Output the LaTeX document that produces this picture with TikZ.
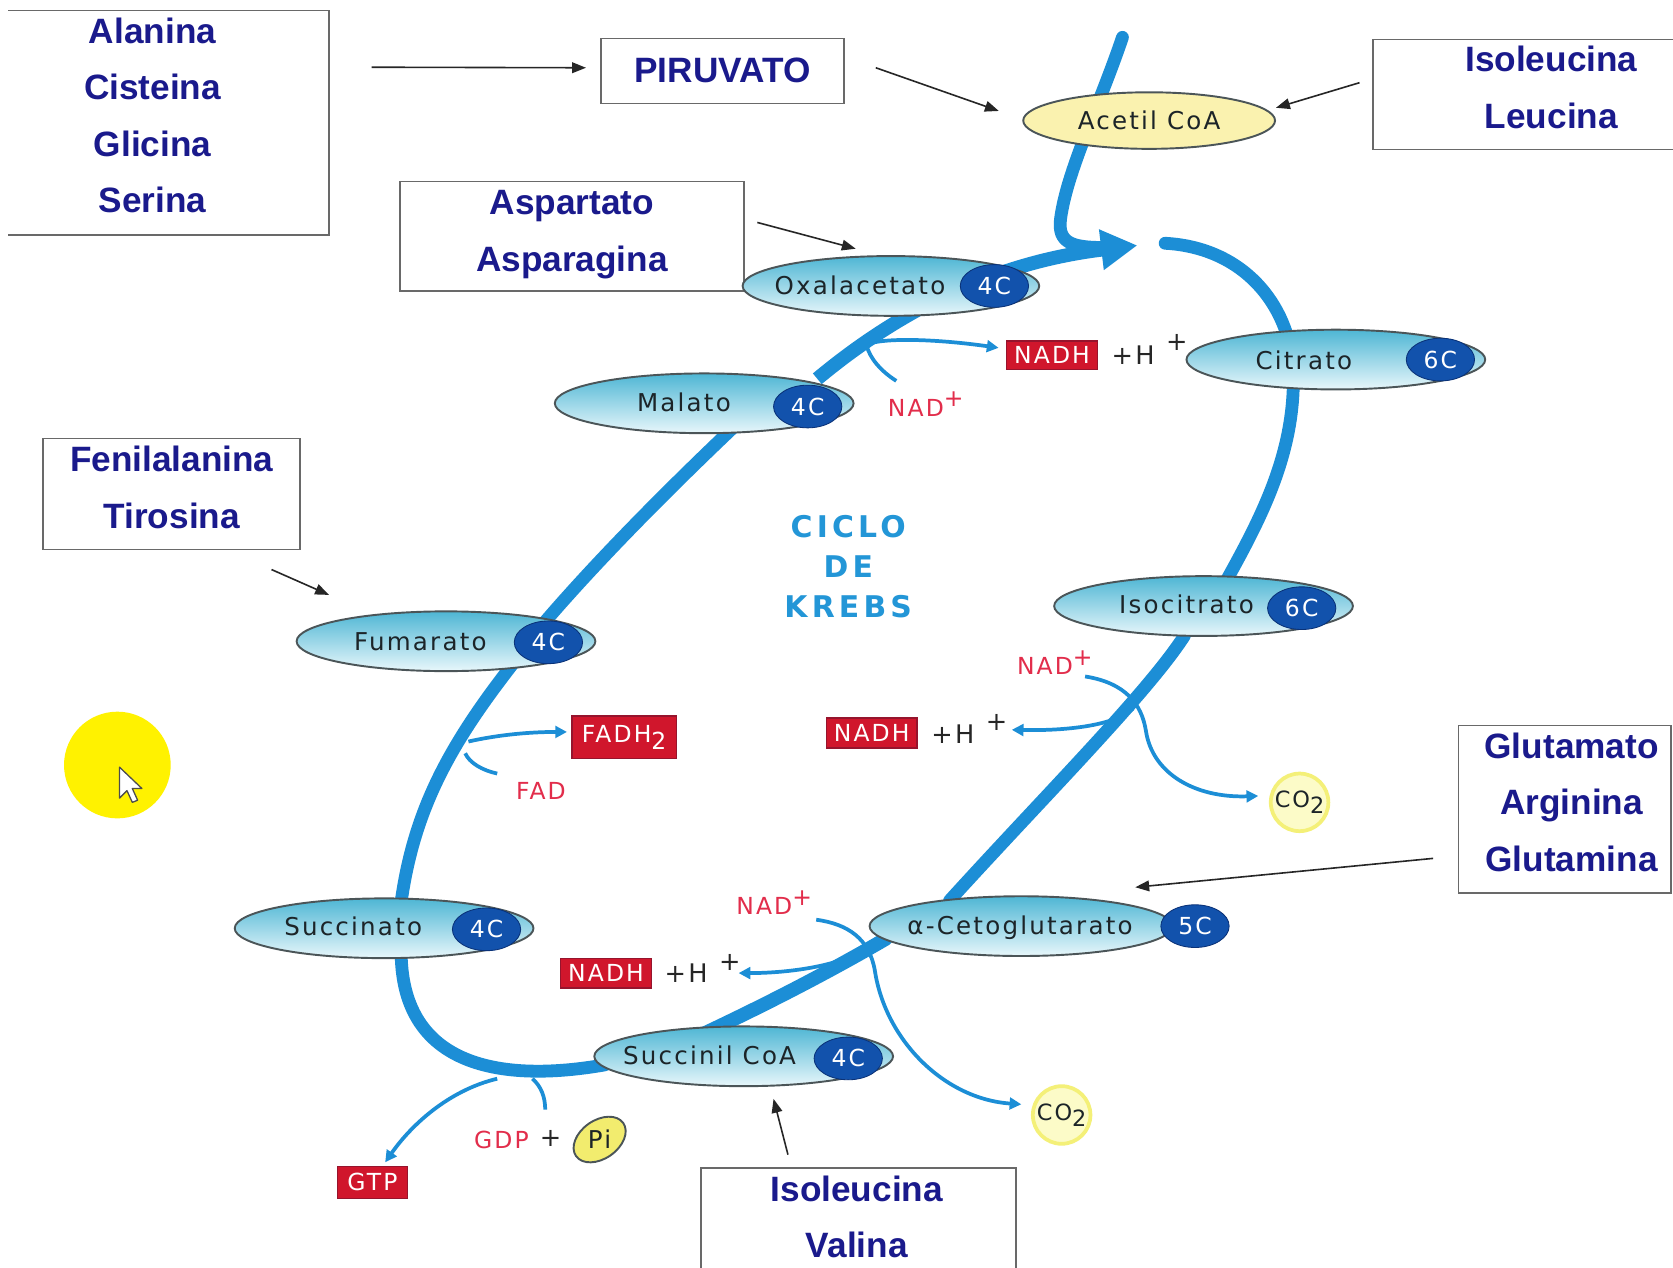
\documentclass[tikz,border=0pt]{standalone}
\usepackage{fontspec}
\setmainfont{DejaVu Sans}
\newfontfamily\boxfont{Liberation Sans}
\newfontfamily\metfont{DejaVu Sans}[LetterSpace=9]
\newfontfamily\krebsfont{DejaVu Sans}[LetterSpace=14]
\usetikzlibrary{shapes.geometric,arrows.meta,backgrounds,calc}
\definecolor{cycblue}{RGB}{28,142,214}
\definecolor{badgeblue}{RGB}{18,82,172}
\definecolor{badgeedge}{RGB}{10,50,120}
\definecolor{metA}{RGB}{78,182,212}
\definecolor{metB}{RGB}{232,247,251}
\definecolor{metline}{RGB}{75,85,88}
\definecolor{mettext}{RGB}{28,36,40}
\definecolor{nadred}{RGB}{208,22,44}
\definecolor{nadedge}{RGB}{150,20,45}
\definecolor{redtext}{RGB}{226,45,75}
\definecolor{aablue}{RGB}{26,26,140}
\definecolor{boxgray}{RGB}{105,105,105}
\definecolor{krebsblue}{RGB}{35,150,215}
\definecolor{co2fill}{RGB}{252,251,200}
\definecolor{co2ring}{RGB}{244,240,120}
\definecolor{acfill}{RGB}{250,242,175}
\definecolor{pifill}{RGB}{242,236,110}
\definecolor{spotY}{RGB}{255,242,0}
\begin{document}
\begin{tikzpicture}[x=1pt,y=-1pt,
  ellbase/.style={ellipse, draw=metline, line width=1.8pt, minimum height=56pt, inner sep=0pt},
  metab/.style={ellbase, top color=metA, bottom color=metB, minimum width=#1},
  badge/.style={ellipse, fill=badgeblue, draw=badgeedge, line width=0.8pt, minimum width=64pt, minimum height=40pt, inner sep=0pt, text=white, font=\metfont\fontsize{22}{22}\selectfont},
  mlabel/.style={inner sep=0pt, text=mettext, text height=16pt, text depth=0pt, font=\metfont\fontsize{23}{23}\selectfont},
  redbox/.style={fill=nadred, draw=nadedge, line width=1.2pt, text=white, inner sep=0pt, font=\metfont\fontsize{22}{22}\selectfont},
  redlbl/.style={inner sep=0pt, text=redtext, font=\metfont\fontsize{22}{22}\selectfont},
  blacklbl/.style={inner sep=0pt, text=black!85, font=\metfont\fontsize{24}{24}\selectfont},
  aabox/.style={draw=boxgray, line width=1.6pt, inner sep=0pt},
  aaline/.style={draw=boxgray, line width=1.6pt},
  aatext/.style={inner sep=0pt, align=center, text=aablue, text depth=0pt, font=\boxfont\bfseries\fontsize{33}{53}\selectfont},
  cyc/.style={draw=cycblue, line width=12pt, line cap=round},
  sidearrow/.style={draw=cycblue, line width=3.5pt, -{Triangle[length=11pt,width=11pt]}},
  sideline/.style={draw=cycblue, line width=3.5pt},
  blk/.style={draw=black!85, line width=1.5pt, -{Triangle[length=13pt,width=10pt]}},
  co2/.style={circle, fill=co2fill, draw=co2ring, line width=3.5pt, minimum size=54pt, inner sep=0pt, text=mettext, font=\metfont\fontsize{21}{21}\selectfont}
]
\useasboundingbox (0,0) rectangle (1568,1188);
\clip (0,0) rectangle (1568,1188);

% ---------- amino-acid boxes ----------
\node[inner sep=0pt, minimum width=300pt, minimum height=210pt] (alanB) at (158,115) {};
\draw[aaline] (alanB.north west) -- (alanB.north east) -- (alanB.south east) -- (alanB.south west);
\node[aatext] (alanT) at (143,108) {Alanina\\Cisteina\\Glicina\\Serina};
\node[aabox, minimum width=228pt, minimum height=61pt] (piru) at (677,66.5) {};
\node[aatext] (piruT) at (677,66) {PIRUVATO};
\node[aabox, minimum width=322pt, minimum height=103pt] (aspB) at (536,221.5) {};
\node[aatext] (aspT) at (536,216.5) {Aspartato\\Asparagina};
\node[aabox, minimum width=334pt, minimum height=103pt] (leuB) at (1454,88.5) {};
\node[aatext] (leuT) at (1454,82) {Isoleucina\\Leucina};
\node[aabox, minimum width=241pt, minimum height=104pt] (fenB) at (160.5,463) {};
\node[aatext] (fenT) at (161,456.5) {Fenilalanina\\Tirosina};
\node[aabox, minimum width=199pt, minimum height=157pt] (gluB) at (1466.5,758.5) {};
\node[aatext] (gluT) at (1473,751.5) {Glutamato\\Arginina\\Glutamina};
\node[aabox, minimum width=295pt, minimum height=103pt] (valB) at (804.5,1146.5) {};
\node[aatext] (valT) at (803,1140.5) {Isoleucina\\Valina};

% ---------- metabolites ----------
\node[ellbase, fill=acfill, minimum width=236pt, minimum height=53pt] (acetil) at (1077,113) {};
\node[mlabel] (acetilT) at (1077,113) {Acetil CoA};

\node[metab=278pt] (oxal) at (835,268) {};
\node[mlabel] (oxalT) at (806,268) {Oxalacetato};
\node[badge] (oxalB) at (932,268) {4C};

\node[metab=280pt] (citr) at (1252,337) {};
\node[mlabel] (citrT) at (1222,338) {Citrato};
\node[badge] (citrB) at (1350,337) {6C};

\node[metab=280pt] (mal) at (660,378) {};
\node[mlabel] (malT) at (641,378) {Malato};
\node[badge] (malB) at (757,381) {4C};

\node[metab=280pt] (isoc) at (1128,568) {};
\node[mlabel] (isocT) at (1112,567) {Isocitrato};
\node[badge] (isocB) at (1220,570) {6C};

\node[metab=280pt] (fum) at (418,601) {};
\node[mlabel] (fumT) at (394,602) {Fumarato};
\node[badge] (fumB) at (514,602) {4C};

\node[metab=280pt] (succ) at (360,870) {};
\node[mlabel] (succT) at (331,869) {Succinato};
\node[badge] (succB) at (456,871) {4C};

\node[metab=284pt] (akg) at (957,868) {};
\node[mlabel] (akgT) at (956,868) {α-Cetoglutarato};
\node[badge] (akgB) at (1120,868) {5C};

\node[metab=280pt] (scoa) at (697,990) {};
\node[mlabel] (scoaT) at (665,990) {Succinil CoA};
\node[badge] (scoaB) at (795,992) {4C};

% ---------- cofactors ----------
\node[redbox, minimum width=85pt, minimum height=27pt] (nadh1) at (986,333) {NADH};
\node[blacklbl] (hp1) at (1062,333) {+H};
\node[blacklbl] (sp1) at (1103,321) {+};
\node[redlbl, anchor=west] (nad1) at (832,379) {NAD\raisebox{9pt}{+}};

\node[redbox, minimum width=85pt, minimum height=28pt] (nadh2) at (817,687) {NADH};
\node[blacklbl] (hp2) at (893,688) {+H};
\node[blacklbl] (sp2) at (934,677) {+};
\node[redlbl, anchor=west] (nad2) at (953,621) {NAD\raisebox{9pt}{+}};

\node[redbox, minimum width=85pt, minimum height=28pt] (nadh3) at (568,912) {NADH};
\node[blacklbl] (hp3) at (643,912) {+H};
\node[blacklbl] (sp3) at (684,902) {+};
\node[redlbl, anchor=west] (nad3) at (690,846) {NAD\raisebox{9pt}{+}};

\node[redbox, minimum width=98pt, minimum height=40pt] (fadh) at (585,691) {FADH\raisebox{-7pt}{2}};
\node[redlbl] (fad) at (507,741) {FAD};

\node[redbox, minimum width=66pt, minimum height=30pt] (gtp) at (349,1108) {GTP};
\node[redlbl] (gdp) at (470,1068) {GDP};
\node[blacklbl] (gplus) at (516,1067) {+};
\node[ellbase, fill=pifill, minimum width=54pt, minimum height=36pt, rotate=35] (pi) at (562,1068) {};
\node[mlabel] (piT) at (562,1068) {Pi};

\node[co2] (co2a) at (1218,752) {CO\raisebox{-6pt}{2}};
\node[co2] (co2b) at (995,1045) {CO\raisebox{-6pt}{2}};

% ---------- centre title ----------
\node[inner sep=0pt, align=center, text=krebsblue, text depth=0pt, font=\krebsfont\bfseries\fontsize{28}{37.5}\selectfont] (krebs) at (795,530.5) {CICLO\\DE\\KREBS};

% ---------- yellow spot with cursor ----------
\node[circle, fill=spotY, minimum size=100pt, inner sep=0pt] (spot) at (110,717) {};
\draw[fill=white, draw=black!70, line width=1.2pt, line join=round]
  (112,719) -- (112,748) -- (119,741) -- (124,752) -- (129,750) -- (124,739) -- (133,739) -- cycle;

% ---------- free ends ----------
\coordinate (stemtop) at (1052,35);
\coordinate (cyctip) at (1066,230);
\coordinate (cycR) at (1092,228);
\coordinate (br1) at (812,323);
\coordinate (br2) at (1062,664);
\coordinate (br3) at (813,888);
\coordinate (br4) at (439,695);
\coordinate (br4b) at (436,706);
\coordinate (br5) at (466,1011);
\coordinate (br6) at (499,1011);
\coordinate (gdpend) at (511,1040);
\coordinate (nadc1) at (840,357);
\coordinate (nadc2) at (1017,634);
\coordinate (nadc3) at (765,862);
\coordinate (fadc) at (466,725);

% ---------- cycle (behind the nodes) ----------
\begin{scope}[on background layer]
\fill[white] (0,0) rectangle (1568,1188);
\draw[cyc] (stemtop) .. controls (1030,100) and (1000,160) .. (994,205)
  .. controls (991,228) and (1005,232) .. (1035,232);
\draw[cyc, line width=13pt, line cap=butt, -{Triangle[length=34pt,width=36pt]}]
  ($(mal)+(106,-23)$) .. controls (850,285) and (940,245) .. (cyctip);
\draw[cyc] (cycR) .. controls (1165,232) and (1208,285) .. ($(citr)+(-40,8)$)
  .. controls (1215,420) and (1185,480) .. ($(isoc)+(22,-25)$);
\draw[cyc] ($(isoc)+(-18,28)$) .. controls (1075,650) and (980,745) .. ($(akg)+(-67,-24)$);
\draw[cyc, line width=13pt] ($(akg)+(-127,12)$) .. controls (770,915) and (710,945) .. ($(scoa)+(-40,-20)$);
\draw[cyc] ($(scoa)+(-130,8)$) .. controls (470,1015) and (378,1000) .. ($(succ)+(16,25)$);
\draw[cyc] ($(succ)+(16,-25)$) .. controls (388,760) and (420,700) .. ($(fum)+(62,22)$);
\draw[cyc] ($(fum)+(90,-15)$) .. controls (560,525) and (630,455) .. ($(mal)+(28,22)$);

% side reactions
\draw[sideline] (nadc1) .. controls (826,348) and (815,336) .. (br1);
\draw[sidearrow] (br1) .. controls (828,316) and (880,318) .. ($(nadh1.west)+(-7,-7)$);

\draw[sidearrow] (nadc2) .. controls (1055,640) and (1070,660) .. (1074,685)
  .. controls (1080,725) and (1120,748) .. ($(co2a.west)+(-10,-6)$);
\draw[sidearrow] (br2) .. controls (1045,680) and (1000,685) .. ($(sp2.east)+(4,7)$);

\draw[sidearrow] (nadc3) .. controls (795,866) and (815,880) .. (820,910)
  .. controls (830,975) and (885,1030) .. ($(co2b.west)+(-9,-10)$);
\draw[sidearrow] (br3) .. controls (790,905) and (740,912) .. ($(sp3.east)+(-2,10)$);

\draw[sidearrow] (br4) .. controls (470,688) and (500,686) .. ($(fadh.west)+(-4,-5)$);
\draw[sideline] (fadc) .. controls (452,722) and (440,715) .. (br4b);

\draw[sidearrow] (br5) .. controls (420,1022) and (385,1055) .. ($(gtp.north)+(12,-3)$);
\draw[sideline] (br6) .. controls (507,1018) and (511,1028) .. (gdpend);
\end{scope}

% ---------- thin black arrows ----------
\draw[blk] ($(alanB.east)+(40,-52)$) -- ($(piru.west)+(-13,-3)$);
\draw[blk] ($(piru.east)+(29,-3)$) -- ($(acetil.west)+(-22,-9)$);
\draw[blk] ($(leuB.west)+(-12,-11)$) -- ($(acetil.east)+(0,-12)$);
\draw[blk] ($(aspB.east)+(12,-13)$) -- ($(oxal.north)+(-33,-6)$);
\draw[blk] ($(fenB.south)+(94,18)$) -- ($(fum.north west)+(-10,-23)$);
\draw[blk] ($(gluB.west)+(-23,46)$) -- ($(akg.north east)+(6,-16)$);
\draw[blk] ($(valB.north)+(-66,-12)$) -- ($(scoa.south)+(28,11)$);
\end{tikzpicture}
\end{document}
